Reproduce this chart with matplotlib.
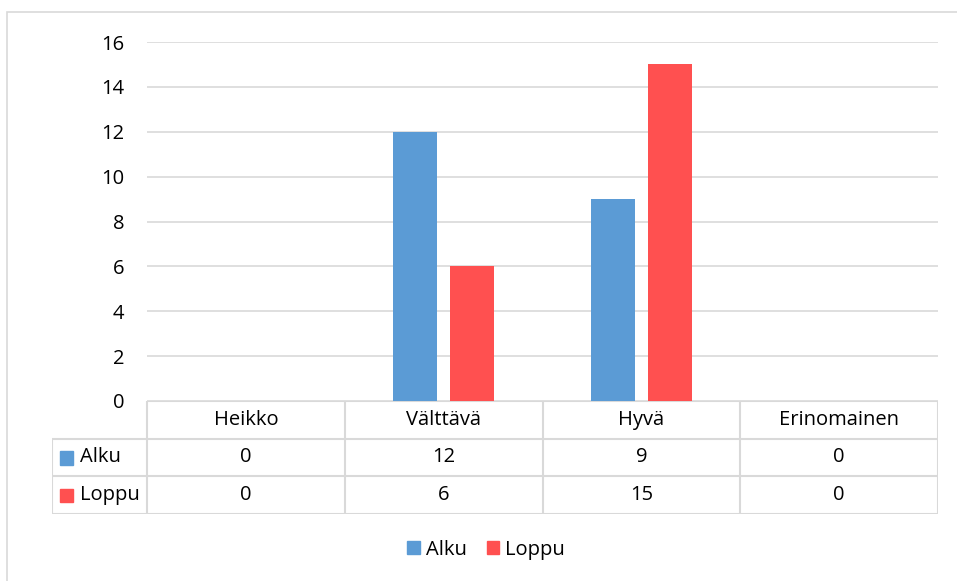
import matplotlib.pyplot as plt
from matplotlib.patches import Rectangle
import numpy as np

plt.rcParams['font.family'] = ['Open Sans', 'DejaVu Sans']

categories = ['Heikko', 'Välttävä', 'Hyvä', 'Erinomainen']
series_names = ['Alku', 'Loppu']
alku = [0, 12, 9, 0]
loppu = [0, 6, 15, 0]
yticks = [0, 2, 4, 6, 8, 10, 12, 14, 16]

colors = ['#5B9BD5', '#FF5050']
grid_col = '#D9D9D9'
fs = 14.5

W, H = 957, 581
fig = plt.figure(figsize=(W / 100, H / 100), dpi=100)

def px(x0, y0, x1, y1):
    # pixel box (top-left origin) -> figure fraction rect
    return [x0 / W, 1 - y1 / H, (x1 - x0) / W, (y1 - y0) / H]

# outer chart frame
fig.add_artist(Rectangle((7 / W, -0.1), 1.2, 1 - 12 / H + 0.1, transform=fig.transFigure,
                         fill=False, edgecolor=grid_col, lw=1.2))

ax = fig.add_axes(px(147, 42, 938, 401))
x = np.arange(len(categories))
bw = 0.222
off = 0.143
ax.bar(x - off, alku, bw, color=colors[0], zorder=3)
ax.bar(x + off, loppu, bw, color=colors[1], zorder=3)
ax.set_xlim(-0.5, len(categories) - 0.5)
ax.set_ylim(0, 16)
ax.set_yticks(yticks)
ax.set_xticks([])
ax.yaxis.grid(True, color=grid_col, lw=1.2, zorder=0)
ax.tick_params(axis='y', length=0, pad=16.5, labelsize=fs)
for s in ax.spines.values():
    s.set_visible(False)

# data table below the plot
lab_w = 95 / ((938 - 147) / len(categories))
tab = fig.add_axes(px(52, 401, 938, 514))
tab.set_xlim(-0.5 - lab_w, len(categories) - 0.5)
tab.set_ylim(3, 0)
tab.axis('off')
lkw = dict(color=grid_col, lw=1.5, solid_capstyle='butt')
# horizontal lines
tab.plot([-0.5, len(categories) - 0.5], [0, 0], **lkw)
for r in (1, 2, 3):
    tab.plot([-0.5 - lab_w, len(categories) - 0.5], [r, r], **lkw)
# vertical lines
tab.plot([-0.5 - lab_w, -0.5 - lab_w], [1, 3], **lkw)
for c in range(len(categories) + 1):
    tab.plot([c - 0.5, c - 0.5], [0, 3], **lkw)

for i, cat in enumerate(categories):
    tab.text(i, 0.5, cat, ha='center', va='center', fontsize=fs)
for r, (name, vals) in enumerate(zip(series_names, [alku, loppu])):
    yr = r + 1.5
    tab.add_patch(Rectangle((-0.5 - lab_w + 0.04, yr - 0.17), 0.067, 0.36,
                            color=colors[r], transform=tab.transData))
    tab.text(-0.5 - lab_w + 0.14, yr, name, ha='left', va='center', fontsize=fs)
    for i, v in enumerate(vals):
        tab.text(i, yr, str(v), ha='center', va='center', fontsize=fs)

handles = [Rectangle((0, 0), 1, 1, color=c) for c in colors]
fig.legend(handles, series_names, loc='center', bbox_to_anchor=(486 / W, 1 - 550 / H),
           ncol=2, frameon=False, fontsize=fs, handlelength=0.62, handleheight=0.62,
           handletextpad=0.3, columnspacing=1.0)

fig.savefig('out.png', dpi=100)
